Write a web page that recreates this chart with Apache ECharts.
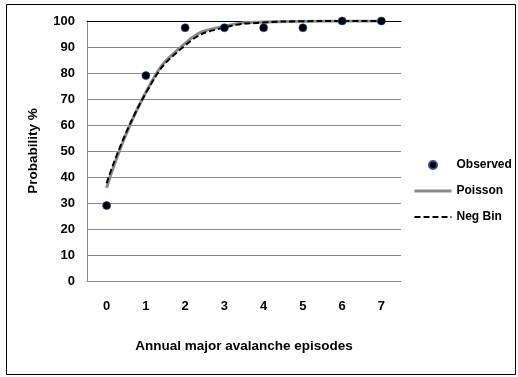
<!DOCTYPE html>
<html><head><meta charset="utf-8">
<script src="https://cdn.jsdelivr.net/npm/echarts@6/dist/echarts.min.js"></script>
<style>html,body{margin:0;padding:0;background:#fff}#c{width:518px;height:377px}</style>
</head><body><div id="c"></div>
<script>
const categories = ['0','1','2','3','4','5','6','7'];
const observed = [29, 79, 97.4, 97.4, 97.4, 97.4, 100, 100];
const poisson = [35.8, 72.6, 91.4, 98.0, 99.6, 99.9, 100, 100];
const negBin = [37.6, 72.3, 90.6, 97.5, 99.4, 99.9, 100, 100];
const yTicks = {min: 0, max: 100, interval: 10};
const font = 'Liberation Sans';
const chart = echarts.init(document.getElementById('c'));
chart.setOption({
  animation: false,
  textStyle: {fontFamily: font},
  graphic: [{type: 'rect', shape: {x: 6.5, y: 4.5, width: 509, height: 370}, style: {fill: 'none', stroke: '#000', lineWidth: 1}}],
  grid: {left: 87, right: 117, top: 21, bottom: 96},
  legend: {
    orient: 'vertical', left: 408, top: 154, itemWidth: 37, itemHeight: 8, itemGap: 14, padding: 5,
    textStyle: {fontFamily: font, fontWeight: 'bold', fontSize: 12, color: '#000'},
    data: [
      {name: 'Observed', icon: 'circle', itemStyle: {opacity: 1, color: '#000008'}},
      {name: 'Poisson', itemStyle: {opacity: 0}, lineStyle: {width: 3, color: '#8a8a8a'}},
      {name: 'Neg Bin', itemStyle: {opacity: 0}, lineStyle: {width: 2, color: '#000', type: [6, 3]}}
    ]
  },
  xAxis: [{
    type: 'category', data: categories, boundaryGap: true,
    name: 'Annual major avalanche episodes', nameLocation: 'middle', nameGap: 58,
    nameTextStyle: {fontFamily: font, fontWeight: 'bold', fontSize: 13.5, color: '#000'},
    axisLine: {lineStyle: {color: '#8c8c8c'}},
    axisTick: {inside: true, length: 5, lineStyle: {color: '#8c8c8c'}},
    axisLabel: {margin: 19, fontFamily: font, fontWeight: 'bold', fontSize: 13, color: '#000'}
  }, {
    type: 'category', data: categories, position: 'top',
    axisLine: {show: true, lineStyle: {color: '#000'}}, axisTick: {show: false}, axisLabel: {show: false}
  }],
  yAxis: {
    type: 'value', min: yTicks.min, max: yTicks.max, interval: yTicks.interval,
    name: 'Probability %', nameLocation: 'middle', nameGap: 47,
    nameTextStyle: {fontFamily: font, fontWeight: 'bold', fontSize: 13.5, color: '#000'},
    axisLine: {show: true, lineStyle: {color: '#8c8c8c'}},
    axisTick: {show: false},
    axisLabel: {margin: 12, fontFamily: font, fontWeight: 'bold', fontSize: 13, color: '#000'},
    splitLine: {lineStyle: {color: '#8c8c8c'}}
  },
  series: [
    {name: 'Poisson', type: 'line', data: poisson, smooth: 0.5, symbol: 'none',
     lineStyle: {color: '#8a8a8a', width: 3}, itemStyle: {color: '#8a8a8a'}, z: 2},
    {name: 'Neg Bin', type: 'line', data: negBin, smooth: 0.5, symbol: 'none',
     lineStyle: {color: '#000', width: 2, type: [6, 3]}, itemStyle: {color: '#000'}, z: 3},
    {name: 'Observed', type: 'scatter', data: observed, symbol: 'circle', symbolSize: 8,
     itemStyle: {color: '#000008', opacity: 1, borderColor: '#2a4f8f', borderWidth: 0.6}, z: 4}
  ]
});
</script></body></html>
